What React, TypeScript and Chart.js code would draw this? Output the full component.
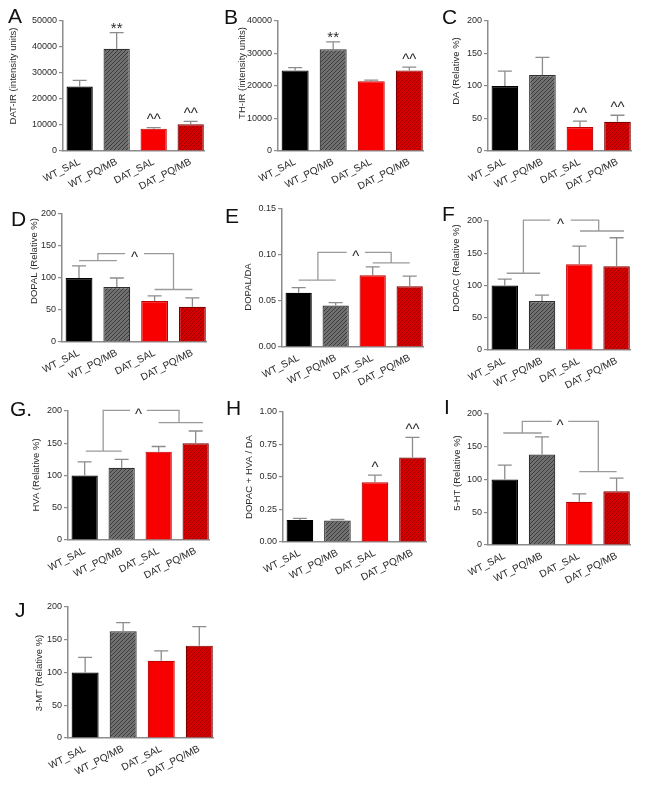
import React, { useEffect, useRef } from 'react';
import { Chart, registerables } from 'chart.js';

Chart.register(...registerables);

// ---------- data ----------
const GROUPS = ['WT_SAL', 'WT_PQ/MB', 'DAT_SAL', 'DAT_PQ/MB'];
const LETTERS = ['A', 'B', 'C', 'D', 'E', 'F', 'G.', 'H', 'I', 'J'];
const Y_TITLES = [
  'DAT-IR (intensity units)',
  'TH-IR (intensity units)',
  'DA (Relative %)',
  'DOPAL (Relative %)',
  'DOPAL/DA',
  'DOPAC (Relative %)',
  'HVA (Relative %)',
  'DOPAC + HVA / DA',
  '5-HT (Relative %)',
  '3-MT (Relative %)',
];
const Y_MAX = [50000, 40000, 200, 200, 0.15, 200, 200, 1, 200, 200];
const Y_STEP = [10000, 10000, 50, 50, 0.05, 50, 50, 0.25, 50, 50];
const Y_DECIMALS = [0, 0, 0, 0, 2, 0, 0, 2, 0, 0];

const A_MEAN = [24800, 39300, 8600, 10300];
const A_SEM = [2400, 6200, 400, 1100];
const B_MEAN = [24800, 31300, 21500, 24800];
const B_SEM = [850, 2250, 300, 1000];
const C_MEAN = [100, 117, 37, 45];
const C_SEM = [23, 27, 9, 10];
const D_MEAN = [100, 86, 64, 55];
const D_SEM = [19, 14, 8, 14];
const E_MEAN = [0.059, 0.045, 0.078, 0.066];
const E_SEM = [0.0055, 0.0033, 0.009, 0.011];
const F_MEAN = [100, 76, 133, 130];
const F_SEM = [10, 9, 28, 44];
const G_MEAN = [100, 112, 137, 150];
const G_SEM = [21, 13, 8, 19];
const H_MEAN = [0.17, 0.165, 0.46, 0.65];
const H_SEM = [0.012, 0.008, 0.055, 0.155];
const I_MEAN = [100, 138, 66, 82];
const I_SEM = [22, 27, 12, 20];
const J_MEAN = [100, 163, 118, 141];
const J_SEM = [23, 13, 15, 29];

const A_MARKS = ['', '**', '^^', '^^'];
const B_MARKS = ['', '**', '', '^^'];
const C_MARKS = ['', '', '^^', '^^'];
const H_MARKS = ['', '', '^', '^^'];
const NO_MARKS = ['', '', '', ''];

// group-comparison brackets: [x1, x2, y] in category / value units
const D_BRACKET = { left: [0, 1, 127], right: [2, 3, 82], top: [0.5, 2.5, 138], gap: [1.22, 1.72] };
const E_BRACKET = { left: [0, 1, 0.0727], right: [2, 3, 0.0915], top: [0.52, 2.5, 0.1028], gap: [1.3, 1.79] };
const F_BRACKET = { left: [0.05, 0.95, 119], right: [2.02, 3.2, 184.5], top: [0.5, 2.52, 201.5], gap: [1.22, 1.77] };
const G_BRACKET = { left: [0.03, 1.0, 137.7], right: [2.0, 3.2, 182], top: [0.5, 2.55, 201], gap: [1.23, 1.68] };
const I_BRACKET = { left: [-0.04, 0.99, 171], right: [2.0, 3.0, 112], top: [0.47, 2.51, 188.7], gap: [1.26, 1.7] };

const PANELS = [
  { mean: A_MEAN, sem: A_SEM, marks: A_MARKS, bracket: null },
  { mean: B_MEAN, sem: B_SEM, marks: B_MARKS, bracket: null },
  { mean: C_MEAN, sem: C_SEM, marks: C_MARKS, bracket: null },
  { mean: D_MEAN, sem: D_SEM, marks: NO_MARKS, bracket: D_BRACKET },
  { mean: E_MEAN, sem: E_SEM, marks: NO_MARKS, bracket: E_BRACKET },
  { mean: F_MEAN, sem: F_SEM, marks: NO_MARKS, bracket: F_BRACKET },
  { mean: G_MEAN, sem: G_SEM, marks: NO_MARKS, bracket: G_BRACKET },
  { mean: H_MEAN, sem: H_SEM, marks: H_MARKS, bracket: null },
  { mean: I_MEAN, sem: I_SEM, marks: NO_MARKS, bracket: I_BRACKET },
  { mean: J_MEAN, sem: J_SEM, marks: NO_MARKS, bracket: null },
];

// ---------- layout (page pixels) ----------
// plot area [left, top, right, bottom], letter baseline [x, y], y-title centre [x, y]
const LAYOUT = [
  { area: [63, 21, 204, 151], letter: [8, 23], title: [13, 76] },
  { area: [278, 21, 423, 151], letter: [224, 24], title: [242, 73] },
  { area: [488, 21, 631, 151], letter: [442, 24], title: [456, 71] },
  { area: [62, 214, 206, 342], letter: [11, 226], title: [34, 261] },
  { area: [282, 209, 423, 347], letter: [225, 223], title: [248, 287] },
  { area: [488, 221, 630, 350], letter: [442, 221], title: [456, 268] },
  { area: [68, 411, 209, 540], letter: [10, 416], title: [36, 475] },
  { area: [283, 412, 426, 542], letter: [226, 415], title: [249, 477] },
  { area: [488, 414, 630, 545], letter: [444, 414], title: [457, 473] },
  { area: [68, 607, 213, 738], letter: [15, 617], title: [39, 673] },
];

const PAD_L = 60;
const PAD_T = 20;
const PAD_R = 14;
const PAD_B = 58;
const X_MIN = -0.45;
const X_MAX = 3.36;
const AXIS_COLOR = '#8c8c8c';
const TEXT_COLOR = '#2a2a2a';
const FONT = '"Liberation Sans", Arial, Helvetica, sans-serif';

function hatch(bg: string, fg: string, size = 4) {
  const c = document.createElement('canvas');
  c.width = size;
  c.height = size;
  const x = c.getContext('2d')!;
  x.fillStyle = bg;
  x.fillRect(0, 0, size, size);
  x.strokeStyle = fg;
  x.lineWidth = 1;
  x.beginPath();
  x.moveTo(0, size);
  x.lineTo(size, 0);
  x.moveTo(-1, 1);
  x.lineTo(1, -1);
  x.moveTo(size - 1, size + 1);
  x.lineTo(size + 1, size - 1);
  x.stroke();
  return x.createPattern(c, 'repeat');
}

function makeChart(canvas: HTMLCanvasElement, idx: number) {
  const p = PANELS[idx];
  const L = LAYOUT[idx];
  const [l, t] = L.area;
  const x0 = l - PAD_L;
  const y0 = t - PAD_T;
  const fills = ['#000000', hatch('#707070', '#3c3c3c'), '#f80000', hatch('#d60000', '#9c0000')];
  const borders = ['#000000', '#303030', '#c00000', '#7a0000'];

  const overlay = {
    id: 'overlay' + idx,
    afterDatasetsDraw(chart: any) {
      const ctx = chart.ctx as CanvasRenderingContext2D;
      const xs = chart.scales.x;
      const ys = chart.scales.y;
      const X = (v: number) => xs.getPixelForValue(v);
      const Y = (v: number) => ys.getPixelForValue(v);
      ctx.save();
      // error bars
      ctx.strokeStyle = AXIS_COLOR;
      ctx.lineWidth = 1.3;
      p.mean.forEach((m, i) => {
        const x = X(i);
        const yt = Y(m);
        const ye = Y(m + p.sem[i]);
        ctx.beginPath();
        ctx.moveTo(x, yt);
        ctx.lineTo(x, ye);
        ctx.moveTo(x - 7, ye);
        ctx.lineTo(x + 7, ye);
        ctx.stroke();
      });
      // significance marks
      ctx.fillStyle = TEXT_COLOR;
      ctx.font = '15px ' + FONT;
      ctx.textAlign = 'center';
      ctx.textBaseline = 'alphabetic';
      p.marks.forEach((mk, i) => {
        if (!mk) return;
        const ye = Y(p.mean[i] + p.sem[i]);
        const off = mk.startsWith('*') ? 0.5 : -3.3;
        ctx.fillText(mk, X(i), ye + off);
      });
      // brackets
      const b = p.bracket;
      if (b) {
        ctx.strokeStyle = '#9a9a9a';
        ctx.lineWidth = 1.3;
        ctx.beginPath();
        ctx.moveTo(X(b.left[0]), Y(b.left[2]));
        ctx.lineTo(X(b.left[1]), Y(b.left[2]));
        ctx.moveTo(X(b.right[0]), Y(b.right[2]));
        ctx.lineTo(X(b.right[1]), Y(b.right[2]));
        ctx.moveTo(X(b.top[0]), Y(b.left[2]));
        ctx.lineTo(X(b.top[0]), Y(b.top[2]));
        ctx.lineTo(X(b.gap[0]), Y(b.top[2]));
        ctx.moveTo(X(b.gap[1]), Y(b.top[2]));
        ctx.lineTo(X(b.top[1]), Y(b.top[2]));
        ctx.lineTo(X(b.top[1]), Y(b.right[2]));
        ctx.stroke();
        ctx.fillText('^', X((b.gap[0] + b.gap[1]) / 2), Y(b.top[2]) + 8.7);
      }
      // panel letter
      ctx.textAlign = 'left';
      ctx.font = '21px ' + FONT;
      ctx.fillStyle = '#111';
      ctx.fillText(LETTERS[idx], L.letter[0] - x0, L.letter[1] - y0);
      // y-axis title
      ctx.translate(L.title[0] - x0, L.title[1] - y0);
      ctx.rotate(-Math.PI / 2);
      ctx.textAlign = 'center';
      ctx.textBaseline = 'middle';
      ctx.font = '9.5px ' + FONT;
      ctx.fillStyle = TEXT_COLOR;
      ctx.fillText(Y_TITLES[idx], 0, 0);
      ctx.restore();
    },
  };

  return new Chart(canvas, {
    type: 'bar',
    data: {
      datasets: [
        {
          data: p.mean.map((m, i) => ({ x: i, y: m })),
          backgroundColor: fills as any,
          borderColor: borders,
          borderWidth: 1.2,
          barPercentage: 0.71,
          categoryPercentage: 1,
        },
      ],
    },
    options: {
      animation: false,
      responsive: false,
      layout: { padding: { left: 0, top: PAD_T, right: PAD_R, bottom: 0 } },
      plugins: { legend: { display: false }, tooltip: { enabled: false } },
      scales: {
        x: {
          type: 'linear',
          offset: false,
          min: X_MIN,
          max: X_MAX,
          afterBuildTicks: (s: any) => {
            s.ticks = GROUPS.map((_, i) => ({ value: i }));
          },
          afterFit: (s: any) => {
            s.height = PAD_B;
          },
          grid: { display: false, drawTicks: false, offset: false },
          border: { display: true, color: AXIS_COLOR, width: 1.5 },
          ticks: {
            autoSkip: false,
            maxRotation: 27,
            minRotation: 27,
            padding: 5,
            color: TEXT_COLOR,
            font: { size: 10, family: FONT },
            callback: (v: any) => GROUPS[Math.round(v)] ?? '',
          },
        },
        y: {
          min: 0,
          max: Y_MAX[idx],
          afterFit: (s: any) => {
            s.width = PAD_L;
          },
          grid: { display: true, drawOnChartArea: false, drawTicks: true, tickLength: 4, color: AXIS_COLOR, lineWidth: 1.2 },
          border: { display: true, color: AXIS_COLOR, width: 1.5 },
          ticks: {
            stepSize: Y_STEP[idx],
            padding: 2,
            color: TEXT_COLOR,
            font: { size: 9, family: FONT },
            callback: (v: any) => Number(v).toFixed(Y_DECIMALS[idx]),
          },
        },
      },
    },
    plugins: [overlay],
  } as any);
}

export default function App() {
  const refs = useRef<(HTMLCanvasElement | null)[]>([]);
  useEffect(() => {
    const charts = PANELS.map((_, i) => makeChart(refs.current[i]!, i));
    return () => charts.forEach((c) => c.destroy());
  }, []);
  return (
    <div style={{ position: 'absolute', left: 0, top: 0, width: 649, height: 793, background: '#fff', overflow: 'hidden' }}>
      {LAYOUT.map((L, i) => {
        const [l, t, r, b] = L.area;
        const w = r - l + PAD_L + PAD_R;
        const h = b - t + PAD_T + PAD_B;
        return (
          <canvas
            key={i}
            ref={(el) => {
              refs.current[i] = el;
            }}
            width={w}
            height={h}
            style={{ position: 'absolute', left: l - PAD_L, top: t - PAD_T, width: w, height: h }}
          />
        );
      })}
    </div>
  );
}
